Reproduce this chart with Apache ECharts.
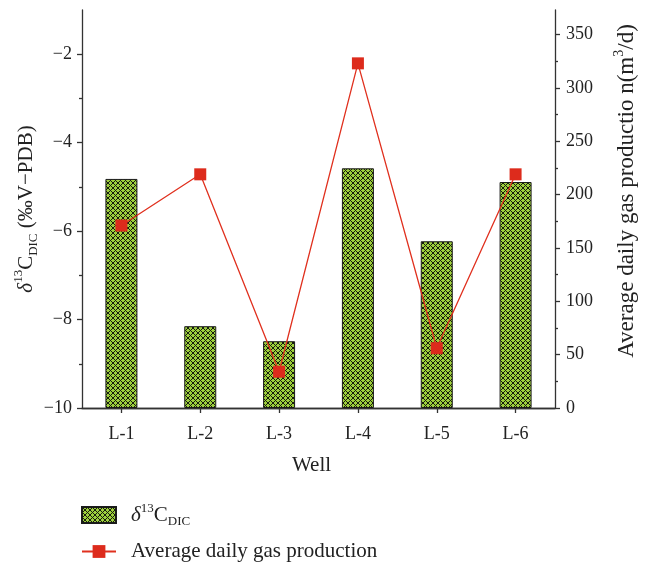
<!DOCTYPE html>
<html>
<head>
<meta charset="utf-8">
<script src="https://cdn.jsdelivr.net/npm/echarts@6/dist/echarts.min.js"></script>
<style>html,body{margin:0;padding:0;background:#fff;}#c{width:649px;height:563px;}</style>
</head>
<body>
<div id="c"></div>
<script>
const wells = ['L-1', 'L-2', 'L-3', 'L-4', 'L-5', 'L-6'];
const d13C = [-4.82, -8.15, -8.49, -4.58, -6.23, -4.89];
const gasProd = [171, 219, 34, 323, 56, 219];
const leftTicks = [-10, -8, -6, -4, -2];
const leftMinor = [-9, -7, -5, -3];
const rightTicks = [0, 50, 100, 150, 200, 250, 300, 350];
const rightMinor = [25, 75, 125, 175, 225, 275, 325];
const leftMin = -10, leftMax = -1, rightMin = 0, rightMax = 373;

const SERIF = 'Liberation Serif';
const INK = '#222';
const AXIS = '#333';

// bars rise from the bottom of the left axis: stack on an invisible base at leftMin
const baseVals = wells.map(() => leftMin);
const barVals = d13C.map(v => v - leftMin);

// hatch pattern tile (black diagonal crosshatch over yellow-green)
const tile = document.createElement('canvas');
tile.width = 5; tile.height = 5;
const g = tile.getContext('2d');
g.fillStyle = '#9dd03c'; g.fillRect(0, 0, 5, 5);
g.fillStyle = '#171a0e';
for (let x = 0; x < 5; x++) {
  for (let y = 0; y < 5; y++) {
    if ((x + y) % 5 === 0 || ((x - y) + 5) % 5 === 0) g.fillRect(x, y, 1, 1);
  }
}

const rich = {
  n: {fontFamily: SERIF, fontSize: 21, color: INK, lineHeight: 28},
  i: {fontFamily: SERIF, fontSize: 21, fontStyle: 'italic', color: INK, lineHeight: 28},
  sup: {fontFamily: SERIF, fontSize: 13, color: INK, lineHeight: 28, verticalAlign: 'top'},
  sub: {fontFamily: SERIF, fontSize: 13, color: INK, lineHeight: 28, verticalAlign: 'bottom'}
};
const rich2 = {
  n: {fontFamily: SERIF, fontSize: 23, color: INK, lineHeight: 30},
  sup: {fontFamily: SERIF, fontSize: 14, color: INK, lineHeight: 30, verticalAlign: 'top'}
};
const legRich = {
  n: {fontFamily: SERIF, fontSize: 21, color: INK, lineHeight: 26},
  i: {fontFamily: SERIF, fontSize: 21, fontStyle: 'italic', color: INK, lineHeight: 26},
  sup: {fontFamily: SERIF, fontSize: 13, color: INK, lineHeight: 26, verticalAlign: 'top'},
  sub: {fontFamily: SERIF, fontSize: 13, color: INK, lineHeight: 26, verticalAlign: 'bottom'}
};

const barName = 'δ13CDIC';
const lineName = 'Average daily gas production';

const chart = echarts.init(document.getElementById('c'), null, {renderer: 'canvas'});
chart.setOption({
  animation: false,
  backgroundColor: '#fff',
  grid: {left: 82, right: 94, top: 10, bottom: 155, containLabel: false, outerBoundsMode: 'none'},
  legend: {
    orient: 'vertical', left: 81, top: 502, padding: 0,
    itemWidth: 34, itemHeight: 16, itemGap: 13,
    data: [{name: barName, icon: 'rect'}, {name: lineName}],
    formatter: function (n) {
      if (n === barName) return '{i|δ}{sup|13}{n|C}{sub|DIC}';
      return '{n|' + n + '}';
    },
    textStyle: {fontFamily: SERIF, fontSize: 21, color: INK, padding: [0,0,0,10], rich: legRich}
  },
  xAxis: [{
    type: 'category', data: wells, position: 'bottom',
    axisLine: {show: true, lineStyle: {color: AXIS, width: 1.3}},
    axisTick: {show: true, alignWithLabel: true, length: 5, lineStyle: {color: AXIS, width: 1.3}},
    axisLabel: {fontFamily: SERIF, fontSize: 18, color: INK, margin: 17},
    name: 'Well', nameLocation: 'middle', nameGap: 47,
    nameTextStyle: {fontFamily: SERIF, fontSize: 21, color: INK, padding: [0, 14, 0, 0]}
  }, {
    type: 'category', data: wells, position: 'top',
    axisLine: {show: true, lineStyle: {color: AXIS, width: 1.3}},
    axisTick: {show: false}, axisLabel: {show: false}
  }],
  yAxis: [{
    type: 'value', position: 'left', min: leftMin, max: leftMax,
    axisLine: {show: true, lineStyle: {color: AXIS, width: 1.3}},
    axisTick: {show: true, length: 5, customValues: leftTicks, lineStyle: {color: AXIS, width: 1.3}},
    axisLabel: {customValues: leftTicks, fontFamily: SERIF, fontSize: 18, color: INK, margin: 10,
      formatter: v => String(v).replace('-', '\u2212')},
    splitLine: {show: false},
    name: '{i|δ}{sup|13}{n|C}{sub|DIC}{n| (‰V−PDB)}', nameLocation: 'middle', nameGap: 42, nameRotate: 90,
    nameMoveOverlap: false,
    nameTextStyle: {fontFamily: SERIF, fontSize: 21, color: INK, rich: rich}
  }, {
    type: 'value', position: 'right', min: rightMin, max: rightMax,
    axisLine: {show: true, lineStyle: {color: AXIS, width: 1.3}},
    axisTick: {show: true, length: 5, customValues: rightTicks, lineStyle: {color: AXIS, width: 1.3}},
    axisLabel: {customValues: rightTicks, fontFamily: SERIF, fontSize: 18, color: INK, margin: 11},
    splitLine: {show: false},
    name: '{n|Average daily gas productio n(m}{sup|3}{n|/d)}', nameLocation: 'middle', nameGap: 57, nameRotate: 90,
    nameTextStyle: {fontFamily: SERIF, fontSize: 23, color: INK, rich: rich2, padding: [0, 0, 0, 36]}
  }, {
    type: 'value', position: 'left', min: leftMin, max: leftMax,
    axisLine: {show: false},
    axisTick: {show: true, length: 3, customValues: leftMinor, lineStyle: {color: AXIS, width: 1.3}},
    axisLabel: {show: false}, splitLine: {show: false}
  }, {
    type: 'value', position: 'right', min: rightMin, max: rightMax,
    axisLine: {show: false},
    axisTick: {show: true, length: 3, customValues: rightMinor, lineStyle: {color: AXIS, width: 1.3}},
    axisLabel: {show: false}, splitLine: {show: false}
  }],
  series: [{
    name: 'base', type: 'bar', xAxisIndex: 0, yAxisIndex: 0, stack: 'd', stackStrategy: 'all',
    data: baseVals, barWidth: 32, silent: true,
    itemStyle: {color: 'rgba(0,0,0,0)', borderWidth: 0}
  }, {
    name: barName, type: 'bar', xAxisIndex: 0, yAxisIndex: 0, stack: 'd', stackStrategy: 'all',
    data: barVals, barWidth: 32,
    itemStyle: {color: {image: tile, repeat: 'repeat'}, borderColor: '#1a1a1a', borderWidth: 1}
  }, {
    name: lineName, type: 'line', xAxisIndex: 0, yAxisIndex: 1,
    data: gasProd, symbol: 'rect', symbolSize: 12,
    lineStyle: {color: '#e0301e', width: 1.3},
    itemStyle: {color: '#dd2b1c'}
  }]
});
</script>
</body>
</html>
